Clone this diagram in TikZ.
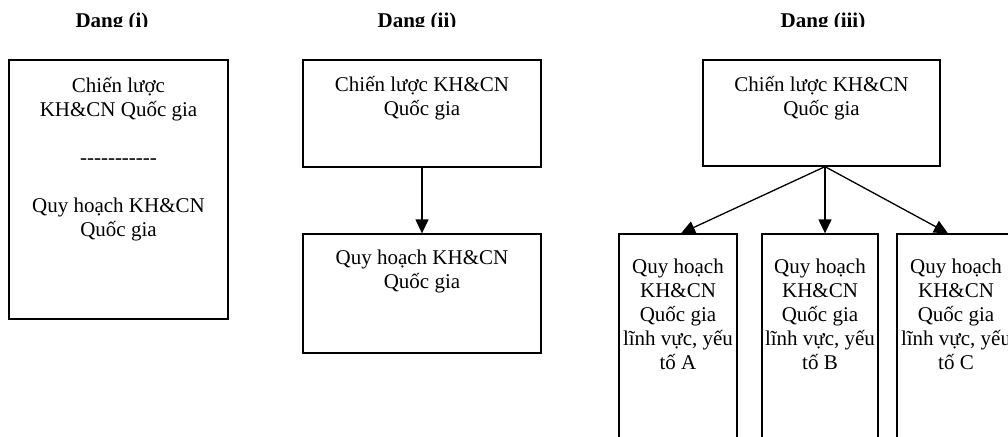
\documentclass[tikz,border=0pt]{standalone}
\usepackage{fontspec}
\newfontfamily\bodyfont{Liberation Serif}
\usetikzlibrary{arrows.meta}
\begin{document}
\begin{tikzpicture}[x=1pt,y=-1pt,
  box/.style={draw,line width=1.3pt,rectangle,inner sep=0pt},
  txt/.style={font=\bodyfont\fontsize{21}{24}\selectfont,align=center,inner sep=0pt,anchor=base},
  head/.style={font=\bodyfont\bfseries\fontsize{21}{24}\selectfont,inner sep=0pt,anchor=base},
  arr/.style={line width=1.3pt,-{Triangle[length=14pt,width=13pt]}}]
\useasboundingbox (0,0) rectangle (1008,436);
\clip (0,0) rectangle (1008,436);
\begin{scope}
\clip (0,0) rectangle (1008,26.5);
\node[head] (hi) at (112,28) {Dạng (i)};
\node[head] (hii) at (417,28) {Dạng (ii)};
\node[head] (hiii) at (823,28) {Dạng (iii)};
\end{scope}
% boxes
\node[box,minimum width=219pt,minimum height=259pt] (bi) at (118.5,189.5) {};
\node[box,minimum width=238pt,minimum height=107pt] (biia) at (422,113.5) {};
\node[box,minimum width=238pt,minimum height=119pt] (biib) at (422,293.5) {};
\node[box,minimum width=237pt,minimum height=106pt] (biii) at (821.5,113) {};
\node[box,minimum width=118pt,minimum height=240pt] (ba) at (678,354) {};
\node[box,minimum width=116pt,minimum height=240pt] (bb) at (820,354) {};
\node[box,minimum width=118pt,minimum height=240pt] (bc) at (956,354) {};
% texts (anchor = baseline of last line)
\node[txt] (ti) at (118.5,236) {Chiến lược\\KH\&CN Quốc gia\\[24pt]-----------\\[24pt]Quy hoạch KH\&CN\\Quốc gia};
\node[txt] (tiia) at (422,115) {Chiến lược KH\&CN\\Quốc gia};
\node[txt] (tiib) at (422,288) {Quy hoạch KH\&CN\\Quốc gia};
\node[txt] (tiii) at (821.5,115) {Chiến lược KH\&CN\\Quốc gia};
\node[txt] (ta) at (678,369) {Quy hoạch\\KH\&CN\\Quốc gia\\lĩnh vực, yếu\\tố A};
\node[txt] (tb) at (820,369) {Quy hoạch\\KH\&CN\\Quốc gia\\lĩnh vực, yếu\\tố B};
\node[txt] (tc) at (956,369) {Quy hoạch\\KH\&CN\\Quốc gia\\lĩnh vực, yếu\\tố C};
% arrows
\draw[arr] (biia) -- (biib);
\draw[arr] ([xshift=3.5pt]biii.south) -- ([xshift=3pt]ba.north);
\draw[arr] ([xshift=3.5pt]biii.south) -- ([xshift=5pt]bb.north);
\draw[arr] ([xshift=3.5pt]biii.south) -- ([xshift=-8pt]bc.north);
\end{tikzpicture}
\end{document}
